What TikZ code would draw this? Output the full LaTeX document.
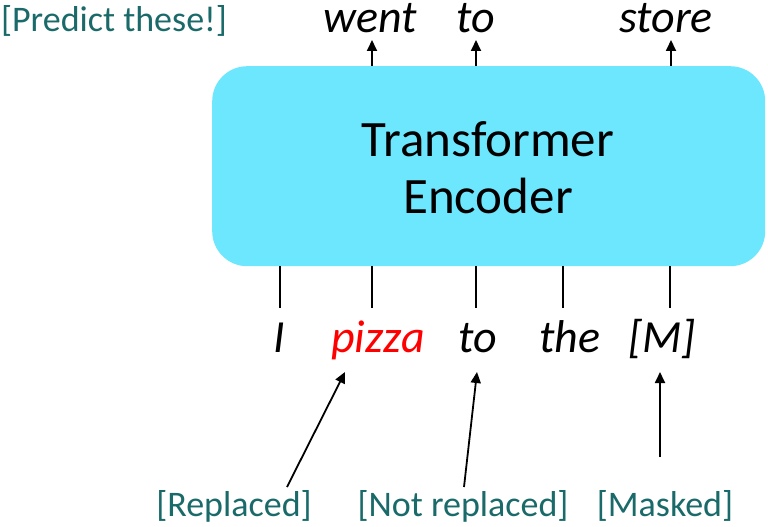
\documentclass[tikz,border=0pt]{standalone}
\usepackage{fontspec}
\setmainfont{Carlito}
\usetikzlibrary{arrows.meta}
\definecolor{boxcyan}{HTML}{6CE7FD}
\definecolor{tealtxt}{HTML}{1A6A6A}
\definecolor{redw}{HTML}{FF0000}
\tikzset{
  word/.style={font=\fontsize{46}{50}\selectfont\itshape, inner sep=0pt, anchor=base},
  lbl/.style={font=\fontsize{36}{40}\selectfont, text=tealtxt, inner sep=0pt, anchor=base},
  arr/.style={-{Triangle[length=11pt,width=10pt]}, line width=1.8pt},
  ln/.style={line width=1.8pt},
}
\begin{document}
\begin{tikzpicture}[x=1pt,y=-1pt]
\useasboundingbox (0,0) rectangle (768,527);
\node[fill=boxcyan, rounded corners=35pt, minimum width=553pt, minimum height=200pt, anchor=north west, inner sep=0pt] (enc) at (212,66) {};
\node[font=\fontsize{51}{57}\selectfont, align=center, inner sep=0pt] (enctxt) at (488,168) {Transformer\\Encoder};
% top words
\node[word] (went) at (370,33) {went};
\node[word] (to1) at (476,33) {to};
\node[word] (store) at (666,33) {store};
\coordinate (a1) at (372,66); \coordinate (b1) at (372,40);
\coordinate (a2) at (476,66); \coordinate (b2) at (476,40);
\coordinate (a3) at (671,66); \coordinate (b3) at (671,40);
\draw[arr] (a1) -- (b1);
\draw[arr] (a2) -- (b2);
\draw[arr] (a3) -- (b3);
\node[lbl] (pred) at (114,32) {[Predict these!]};
% bottom words
\node[word] (wI) at (279,352) {I};
\node[word, text=redw] (wpizza) at (378,352) {pizza};
\node[word] (wto) at (478,352) {to};
\node[word] (wthe) at (570,352) {the};
\node[word] (wM) at (662,352) {[M]};
\foreach \x in {280,372,476,563,670}{
  \draw[ln] (\x,266) -- (\x,308);
}
% labels
\node[lbl] (rep) at (234,516) {[Replaced]};
\node[lbl] (nrep) at (463,516) {[Not replaced]};
\node[lbl] (mask) at (665,516) {[Masked]};
\coordinate (r0) at (287,487); \coordinate (r1) at (345,372);
\coordinate (n0) at (464,487); \coordinate (n1) at (477,372);
\coordinate (m0) at (660,457); \coordinate (m1) at (660,372);
\draw[arr] (r0) -- (r1);
\draw[arr] (n0) -- (n1);
\draw[arr] (m0) -- (m1);
\end{tikzpicture}
\end{document}
